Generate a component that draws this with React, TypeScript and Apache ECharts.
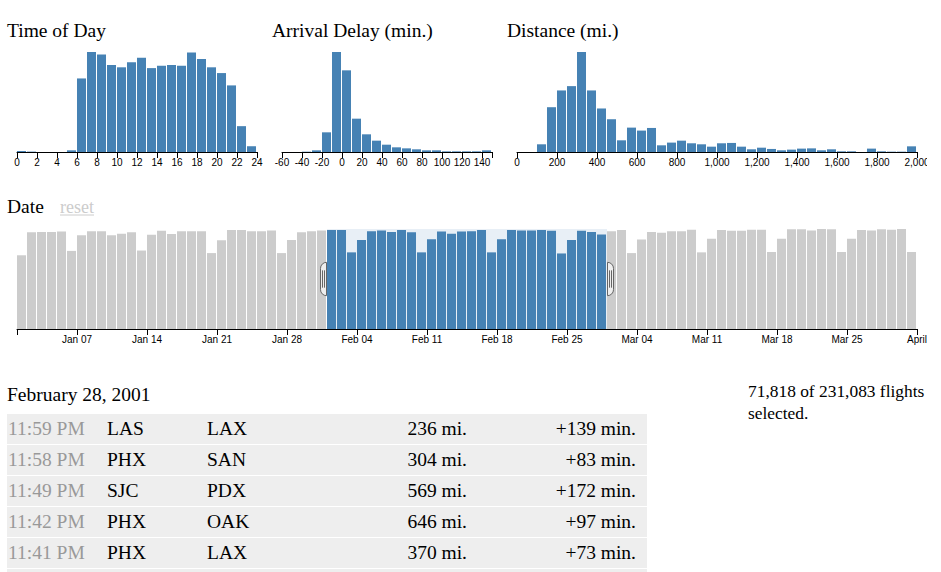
import React, { useEffect, useRef } from "react";
import * as echarts from "echarts";

// ---------- data ----------
const hourTicks = [0, 2, 4, 6, 8, 10, 12, 14, 16, 18, 20, 22, 24];
const hourCounts = [50, 20, 0, 0, 0, 85, 3700, 5030, 4910, 4370, 4260, 4520, 4740, 4220, 4340, 4370, 4340, 5000, 4680, 4260, 3970, 3350, 1300, 290];

const delayFirstBin = -60;
const delayBinSize = 10;
const delayCounts = [0, 0, 80, 410, 4840, 24600, 20090, 8200, 4350, 2790, 1800, 1150, 900, 660, 410, 410, 160, 160, 160, 160, 410];
const delayTicks = [-60, -40, -20, 0, 20, 40, 60, 80, 100, 120, 140];

const distanceBinSize = 50;
const distanceCounts = [0, 0, 910, 5290, 7270, 7780, 11810, 7270, 5140, 3870, 1380, 2880, 2530, 2840, 790, 1110, 1340, 1030, 910, 630, 1030, 1070, 630, 320, 510, 360, 200, 280, 400, 430, 200, 320, 80, 80, 0, 400, 80, 40, 40, 670];
const distanceTicks = [0, 200, 400, 600, 800, 1000, 1200, 1400, 1600, 1800, 2000];

const janCounts = [2020, 2650, 2660, 2660, 2670, 2140, 2570, 2680, 2680, 2570, 2610, 2650, 2150, 2580, 2690, 2600, 2680, 2680, 2680, 2080, 2430, 2710, 2710, 2680, 2680, 2700, 2080, 2440, 2650, 2680, 2700];
const febCounts = [2710, 2710, 2100, 2440, 2680, 2700, 2660, 2710, 2650, 2100, 2460, 2670, 2610, 2670, 2680, 2710, 2100, 2460, 2710, 2700, 2700, 2710, 2690, 2070, 2440, 2690, 2660, 2590];
const marCounts = [2680, 2710, 2080, 2450, 2660, 2640, 2680, 2680, 2720, 2100, 2470, 2710, 2690, 2690, 2720, 2720, 2110, 2470, 2730, 2730, 2700, 2740, 2730, 2110, 2470, 2710, 2700, 2730, 2720, 2740, 2110];
const dateTickDays = [6, 13, 20, 27, 34, 41, 48, 55, 62, 69, 76, 83, 90];
const dateTickLabels = ["Jan 07", "Jan 14", "Jan 21", "Jan 28", "Feb 04", "Feb 11", "Feb 18", "Feb 25", "Mar 04", "Mar 11", "Mar 18", "Mar 25", "April"];
const brushStartDay = 31; // Feb 1
const brushEndDay = 59; // Mar 1

const titles = ["Time of Day", "Arrival Delay (min.)", "Distance (mi.)"];
const dateTitle = "Date";
const resetLabel = "reset";
const selectedDate = "February 28, 2001";
const flightTimes = ["11:59 PM", "11:58 PM", "11:49 PM", "11:42 PM", "11:41 PM"];
const flightOrigins = ["LAS", "PHX", "SJC", "PHX", "PHX"];
const flightDestinations = ["LAX", "SAN", "PDX", "OAK", "LAX"];
const flightDistances = [236, 304, 569, 646, 370];
const flightDelays = [139, 83, 172, 97, 73];
const selectedFlights = 71818;
const totalFlights = 231083;

// ---------- style ----------
const BLUE = "#4682b4";
const GRAY = "#ccc";
const SERIF = "'Liberation Serif', 'Times New Roman', serif";
const SANS = "'Liberation Sans', Arial, sans-serif";
const TITLE_SIZE = 19.5;

const G_HOUR = { left: 17, top: 52, width: 240, height: 100 };
const G_DELAY = { left: 282, top: 52, width: 210, height: 100 };
const G_DIST = { left: 517, top: 52, width: 400, height: 100 };
const G_DATE = { left: 17, top: 229, width: 900, height: 100 };
const DATE_DAYS = 90;

const fmt = (n: number) => n.toLocaleString("en-US");

function xAxisFor(gridIndex: number, min: number, max: number, tickVals: number[], labelVals: number[], formatter: (v: number) => string) {
  return {
    type: "value",
    gridIndex,
    min,
    max,
    axisLine: { show: true, onZero: false, lineStyle: { color: "#000", width: 1 } },
    axisTick: { show: true, length: 6, customValues: tickVals, lineStyle: { color: "#000", width: 1 } },
    axisLabel: {
      show: true,
      customValues: labelVals,
      formatter,
      fontSize: 10,
      lineHeight: 10,
      fontFamily: SANS,
      color: "#000",
      margin: 5,
      hideOverlap: false,
    },
    splitLine: { show: false },
  };
}

function yAxisFor(gridIndex: number, max: number) {
  return { type: "value", gridIndex, min: 0, max, show: false, splitLine: { show: false } };
}

function barSeries(idx: number, data: any[]) {
  return {
    type: "bar",
    xAxisIndex: idx,
    yAxisIndex: idx,
    data,
    barWidth: 9,
    silent: true,
    itemStyle: { color: BLUE },
  };
}

function text(x: number, y: number, s: string, opts: any = {}) {
  return {
    type: "text",
    x,
    y,
    silent: true,
    z: 50,
    style: {
      text: s,
      fill: opts.fill || "#000",
      fontSize: opts.fontSize || TITLE_SIZE,
      fontFamily: opts.fontFamily || SERIF,
      align: opts.align || "left",
      verticalAlign: "middle",
    },
  };
}

export default function App() {
  const ref = useRef<HTMLDivElement>(null);

  useEffect(() => {
    if (!ref.current) return;
    const chart = echarts.init(ref.current, null, { renderer: "svg" });

    const dateCounts = [...janCounts, ...febCounts, ...marCounts];
    const dayPx = (d: number) => G_DATE.left + (d * G_DATE.width) / DATE_DAYS;

    const hourData = hourCounts.map((v, i) => [i + 0.45, v]);
    const delayData = delayCounts.map((v, i) => [delayFirstBin + i * delayBinSize + 4.5, v]);
    const distData = distanceCounts.map((v, i) => [i * distanceBinSize + 22.5, v]);
    const dateData = dateCounts.map((v, i) => ({
      value: [i + 0.45, v],
      itemStyle: { color: i >= brushStartDay && i < brushEndDay ? BLUE : GRAY },
    }));

    const graphics: any[] = [];
    graphics.push(text(7, 30, titles[0]));
    graphics.push(text(272, 30, titles[1]));
    graphics.push(text(507, 30, titles[2]));
    graphics.push(text(7, 206.5, dateTitle));
    graphics.push(text(60, 206.5, resetLabel, { fill: GRAY, fontSize: 18 }));
    graphics.push({ type: "line", silent: true, z: 50, shape: { x1: 60, y1: 215, x2: 94, y2: 215 }, style: { stroke: GRAY, lineWidth: 1 } });

    // brush handles
    const hTop = G_DATE.top + G_DATE.height / 3;
    const hH = G_DATE.height / 3;
    const x0 = dayPx(brushStartDay);
    const x1 = dayPx(brushEndDay);
    const handleStyle = { fill: "#eee", stroke: "#666", lineWidth: 1 };
    graphics.push({ type: "rect", silent: true, z: 60, shape: { x: x0 - 6.5, y: hTop, width: 6, height: hH, r: [6, 0, 0, 6] }, style: handleStyle });
    graphics.push({ type: "rect", silent: true, z: 60, shape: { x: x1 + 0.5, y: hTop, width: 6, height: hH, r: [0, 6, 6, 0] }, style: handleStyle });
    [x0 - 2.5, x0 - 4.5, x1 + 2.5, x1 + 4.5].forEach((lx) => {
      graphics.push({ type: "line", silent: true, z: 61, shape: { x1: lx, y1: hTop + 8, x2: lx, y2: hTop + hH - 8 }, style: { stroke: "#666", lineWidth: 1 } });
    });

    // selection summary + table
    graphics.push(text(7, 394, selectedDate));
    graphics.push(text(748, 391, `${fmt(selectedFlights)} of ${fmt(totalFlights)} flights`, { fontSize: 17.4 }));
    graphics.push(text(748, 412.5, "selected.", { fontSize: 17.4 }));

    const ROW_TOP = 414;
    const ROW_PITCH = 31;
    const ROW_H = 30;
    for (let r = 0; r <= flightTimes.length; r++) {
      graphics.push({ type: "rect", silent: true, z: 40, shape: { x: 7, y: ROW_TOP + r * ROW_PITCH, width: 640, height: ROW_H }, style: { fill: "#eee" } });
    }
    flightTimes.forEach((t, r) => {
      const cy = ROW_TOP + r * ROW_PITCH + 14.5;
      graphics.push(text(8, cy, t, { fill: "#999" }));
      graphics.push(text(107, cy, flightOrigins[r]));
      graphics.push(text(207, cy, flightDestinations[r]));
      graphics.push(text(467, cy, `${fmt(flightDistances[r])} mi.`, { align: "right" }));
      graphics.push(text(636, cy, `+${fmt(flightDelays[r])} min.`, { align: "right" }));
    });

    const option: any = {
      animation: false,
      backgroundColor: "transparent",
      tooltip: { show: false },
      grid: [G_HOUR, G_DELAY, G_DIST, G_DATE].map((g) => ({ ...g, containLabel: false, outerBoundsMode: "none", show: false })),
      xAxis: [
        xAxisFor(0, 0, 24, hourTicks, hourTicks, (v) => String(v)),
        xAxisFor(1, -60, 150, [...delayTicks, 150], delayTicks, (v) => String(v)),
        xAxisFor(2, 0, 2000, distanceTicks, distanceTicks, (v) => fmt(v)),
        xAxisFor(3, 0, DATE_DAYS, [0, ...dateTickDays], dateTickDays, (v) => {
          const k = dateTickDays.indexOf(Math.round(v));
          return k >= 0 ? dateTickLabels[k] : "";
        }),
      ],
      yAxis: [
        yAxisFor(0, Math.max(...hourCounts)),
        yAxisFor(1, Math.max(...delayCounts)),
        yAxisFor(2, Math.max(...distanceCounts)),
        yAxisFor(3, Math.max(...dateCounts)),
      ],
      series: [
        barSeries(0, hourData),
        barSeries(1, delayData),
        barSeries(2, distData),
        {
          ...barSeries(3, dateData),
          markArea: {
            silent: true,
            itemStyle: { color: "rgba(70,130,180,0.125)" },
            data: [[{ xAxis: brushStartDay }, { xAxis: brushEndDay }]],
          },
        },
      ],
      graphic: graphics,
    };

    chart.setOption(option);
    return () => chart.dispose();
  }, []);

  return <div ref={ref} style={{ position: "absolute", left: 0, top: 0, width: 927, height: 572, background: "#fff" }} />;
}
